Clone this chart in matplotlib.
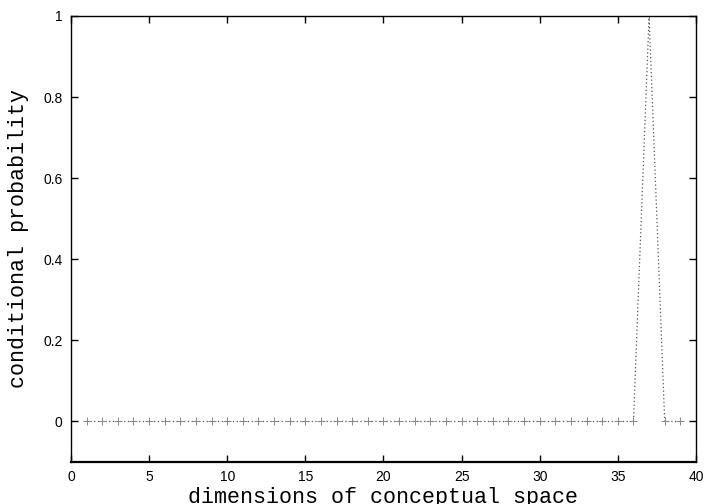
import matplotlib
matplotlib.use("Agg")
import matplotlib.pyplot as plt

x_vals = list(range(1, 40))
y_vals = [0.0] * 39
y_vals[36] = 1.0  # x = 37

x_ticks = [0, 5, 10, 15, 20, 25, 30, 35, 40]
y_ticks = [0, 0.2, 0.4, 0.6, 0.8, 1]
y_tick_labels = ["0", "0.2", "0.4", "0.6", "0.8", "1"]

fig = plt.figure(figsize=(7.2, 5.04), dpi=100)
ax = fig.add_axes([0.0986, 0.0833, 0.868, 0.885])

ax.plot(x_vals, y_vals, color="#555555", linestyle=(0, (1, 2)), linewidth=0.9,
        marker="+", markersize=6, markeredgewidth=0.7, markeredgecolor="#888888")

ax.set_xlim(0, 40)
ax.set_ylim(-0.1, 1)
ax.set_xticks(x_ticks)
ax.set_xticklabels([str(t) for t in x_ticks])
ax.set_yticks(y_ticks)
ax.set_yticklabels(y_tick_labels)
ax.tick_params(direction="in", top=True, right=True, length=5, width=1,
               labelsize=10, pad=6)
for lab in ax.get_xticklabels() + ax.get_yticklabels():
    lab.set_family("Liberation Sans")
for s in ax.spines.values():
    s.set_linewidth(1)
ax.spines["bottom"].set_linewidth(1.6)

ax.set_xlabel("dimensions of conceptual space", family="Liberation Mono",
              fontsize=15.6, labelpad=2)
ax.set_ylabel("conditional probability", family="Liberation Mono",
              fontsize=15.6, labelpad=10)

fig.savefig("out.png", dpi=100)
